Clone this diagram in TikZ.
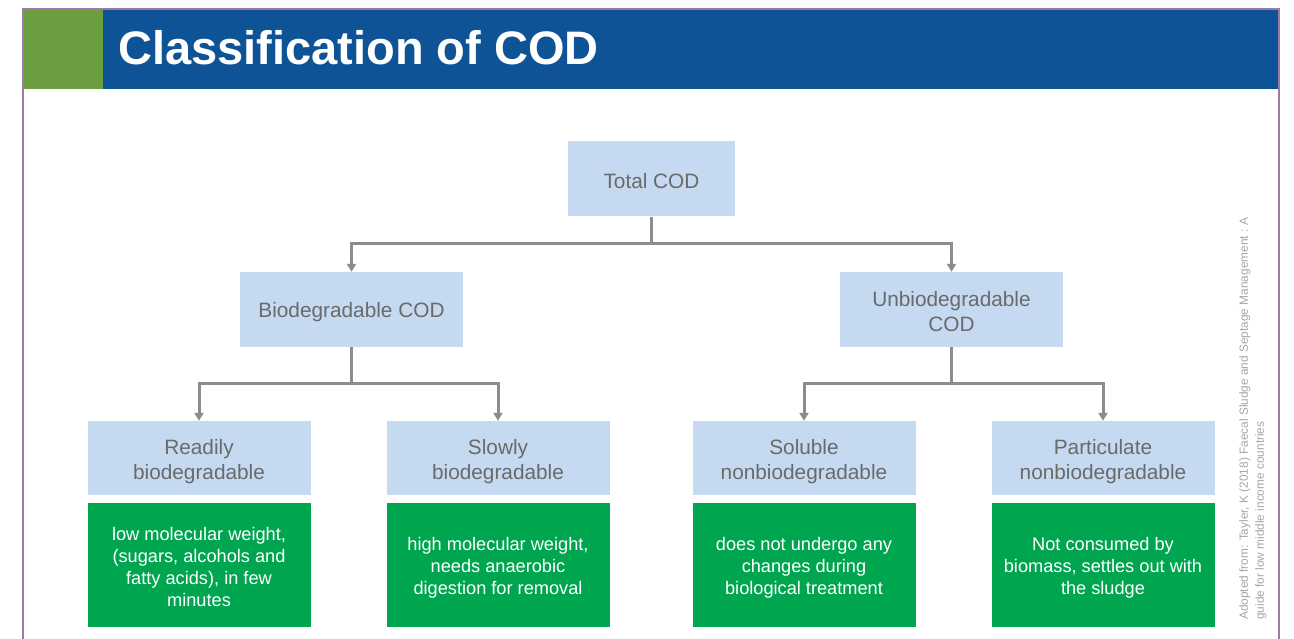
\documentclass[tikz,border=0pt]{standalone}
\usepackage{fontspec}
\setmainfont{Liberation Sans}
\usetikzlibrary{arrows.meta}
\definecolor{hdrblue}{HTML}{0E5396}
\definecolor{hdrgreen}{HTML}{6A9E3F}
\definecolor{framepurple}{HTML}{9A7AA6}
\definecolor{lightblue}{HTML}{C5D9F1}
\definecolor{boxtext}{HTML}{6A6A6A}
\definecolor{descgreen}{HTML}{00A550}
\definecolor{conngrey}{HTML}{8C8C8C}
\definecolor{srcgrey}{HTML}{A6A6A6}
\tikzset{
  bluebox/.style={fill=lightblue, inner sep=0pt, minimum height=75pt},
  bluetext/.style={text=boxtext, inner sep=0pt, align=center,
    font=\fontsize{20.8}{25}\selectfont},
  descbox/.style={fill=descgreen, inner sep=0pt, minimum width=223pt, minimum height=124pt},
  desctext/.style={text=white, inner sep=0pt, align=center,
    font=\fontsize{18.2}{22}\selectfont},
  conn/.style={draw=conngrey, line width=3pt, -{Triangle[width=9pt,length=8pt]}},
  link/.style={draw=conngrey, line width=3pt},
}
\begin{document}
\begin{tikzpicture}[x=1pt,y=-1pt]
\useasboundingbox (0,0) rectangle (1294,639);
\fill[white] (0,0) rectangle (1294,639);
% header
\fill[hdrgreen] (23,9) rectangle (103,89);
\fill[hdrblue] (103,9) rectangle (1279,89);
\node[anchor=base west, inner sep=0pt, text=white, font=\fontsize{47}{50}\selectfont\bfseries] (title) at (118,65) {Classification of COD};
% frame
\draw[framepurple, line width=1.5pt] (23,639) -- (23,9) -- (1279,9) -- (1279,639);
% boxes
\node[bluebox, minimum width=167pt] (tot) at (651.5,179) {};
\node[bluebox, minimum width=223pt] (bio) at (351.5,309.5) {};
\node[bluebox, minimum width=223pt] (unb) at (951.5,309.5) {};
\node[bluebox, minimum width=223pt, minimum height=74pt] (rea) at (199,458) {};
\node[bluebox, minimum width=223pt, minimum height=74pt] (slo) at (498,458) {};
\node[bluebox, minimum width=223pt, minimum height=74pt] (sol) at (804,458) {};
\node[bluebox, minimum width=223pt, minimum height=74pt] (par) at (1103,458) {};
\node[descbox] (drea) at (199,565) {};
\node[descbox] (dslo) at (498,565) {};
\node[descbox] (dsol) at (804,565) {};
\node[descbox] (dpar) at (1103,565) {};
% box texts
\node[bluetext] (ttot) at ([yshift=-2pt]tot.center) {Total COD};
\node[bluetext] (tbio) at ([yshift=-3pt]bio.center) {Biodegradable COD};
\node[bluetext] (tunb) at ([yshift=-2.5pt]unb.center) {Unbiodegradable\\COD};
\node[bluetext] (trea) at ([yshift=-3.5pt]rea.center) {Readily\\biodegradable};
\node[bluetext] (tslo) at ([yshift=-3.5pt]slo.center) {Slowly\\biodegradable};
\node[bluetext] (tsol) at ([yshift=-3.5pt]sol.center) {Soluble\\nonbiodegradable};
\node[bluetext] (tpar) at ([yshift=-3.5pt]par.center) {Particulate\\nonbiodegradable};
\node[desctext] (tdrea) at ([yshift=-2pt]drea.center) {low molecular weight,\\(sugars, alcohols and\\fatty acids), in few\\minutes};
\node[desctext] (tdslo) at ([yshift=-2.5pt]dslo.center) {high molecular weight,\\needs anaerobic\\digestion for removal};
\node[desctext] (tdsol) at ([yshift=-2.5pt]dsol.center) {does not undergo any\\changes during\\biological treatment};
\node[desctext] (tdpar) at ([yshift=-2.5pt]dpar.center) {Not consumed by\\biomass, settles out with\\the sludge};
% connectors
\coordinate (j1) at (651.5,243.5);
\coordinate (j2) at (351.5,383.5);
\coordinate (j3) at (951.5,383.5);
\draw[link] (tot.south) -- (j1);
\draw[conn] (j1) -| (bio.north);
\draw[conn] (j1) -| (unb.north);
\draw[link] (bio.south) -- (j2);
\draw[conn] (j2) -| (rea.north);
\draw[conn] (j2) -| (slo.north);
\draw[link] (unb.south) -- (j3);
\draw[conn] (j3) -| (sol.north);
\draw[conn] (j3) -| (par.north);
% source
\node[rotate=90, anchor=north west, inner sep=0pt, align=left, text=srcgrey,
  font=\fontsize{11.85}{16}\selectfont] (src) at (1239,620)
  {Adopted from: Tayler, K (2018) Faecal Sludge and Septage Management : A\\guide for low middle income countries};
\end{tikzpicture}
\end{document}
